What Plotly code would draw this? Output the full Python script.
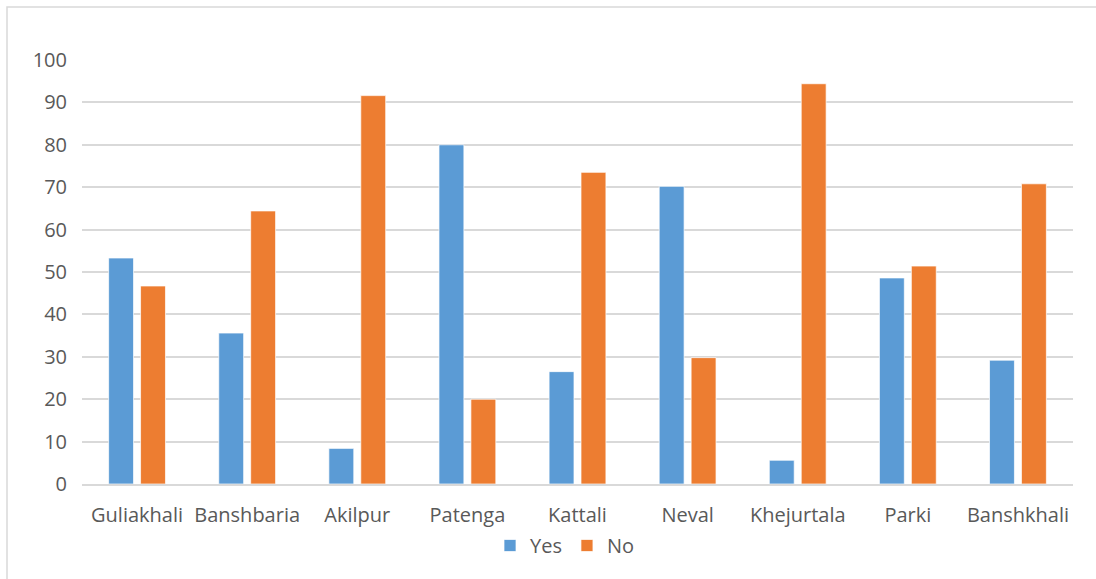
import plotly.graph_objects as go

# Survey responses per location (percent)
locations = ["Guliakhali", "Banshbaria", "Akilpur", "Patenga", "Kattali",
             "Neval", "Khejurtala", "Parki", "Banshkhali"]
yes_values = [53.3, 35.6, 8.4, 80.0, 26.5, 70.2, 5.6, 48.6, 29.2]
no_values = [46.7, 64.4, 91.6, 20.0, 73.5, 29.8, 94.4, 51.4, 70.8]
y_ticks = [0, 10, 20, 30, 40, 50, 60, 70, 80, 90, 100]

W, H = 1096, 579
ML, MR, MT, MB = 82, 23, 60, 95
FONT = "Open Sans"
TEXT_COLOR = "#595959"
GRID = "#D9D9D9"

fig = go.Figure()
fig.add_trace(go.Bar(
    name="Yes", x=locations, y=yes_values,
    marker=dict(color="#5B9BD5", line=dict(color="rgba(255,255,255,0.7)", width=1)),
))
fig.add_trace(go.Bar(
    name="No", x=locations, y=no_values,
    marker=dict(color="#ED7D31", line=dict(color="rgba(255,255,255,0.7)", width=1)),
))

pw = W - ML - MR
ph = H - MT - MB
# outer chart border, expressed in paper coordinates
x0 = (7 - ML) / pw
x1 = (W + 5 - ML) / pw
y1 = (H - 7 - MB) / ph
y0 = (H - 585 - MB) / ph

fig.update_layout(
    width=W, height=H,
    margin=dict(l=ML, r=MR, t=MT, b=MB, autoexpand=False),
    paper_bgcolor="white", plot_bgcolor="white",
    barmode="group", bargap=0.42, bargroupgap=0.22,
    font=dict(family=FONT, size=20, color=TEXT_COLOR),
    showlegend=True,
    legend=dict(orientation="h", x=(490 - ML) / pw, xanchor="left",
                y=(H - 526 - MB) / ph, yanchor="top",
                bgcolor="rgba(0,0,0,0)",
                font=dict(family=FONT, size=20, color=TEXT_COLOR),
                itemwidth=30, traceorder="normal"),
    shapes=[dict(type="rect", xref="paper", yref="paper", x0=x0, x1=x1, y0=y0, y1=y1,
                 line=dict(color="#D9D9D9", width=1.5), layer="below")],
)
fig.update_xaxes(showgrid=False, showline=True, linecolor=GRID, linewidth=2,
                 ticks="", automargin=False, ticklabelstandoff=12,
                 tickfont=dict(family=FONT, size=20, color=TEXT_COLOR))
fig.update_yaxes(range=[0, 100], tickvals=y_ticks, showgrid=True, gridcolor=GRID,
                 gridwidth=1.5, zeroline=False, showline=False, ticks="",
                 ticklabelstandoff=14, automargin=False,
                 tickfont=dict(family=FONT, size=20, color=TEXT_COLOR))

fig.write_html("out.html")
